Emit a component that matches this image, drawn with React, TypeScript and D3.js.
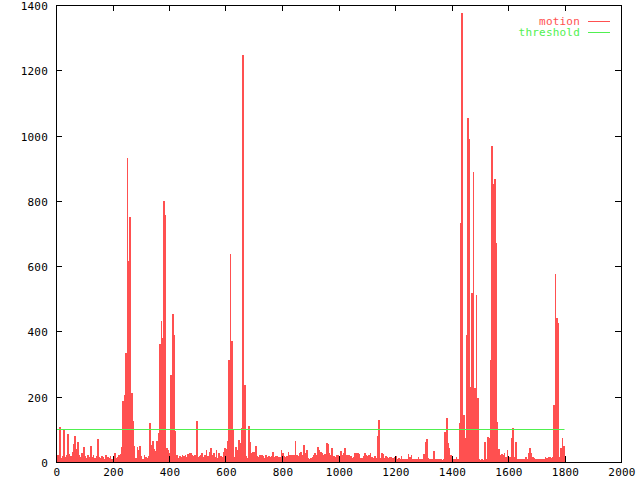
import React from "react";
import * as d3 from "d3";

const FRAME_STEP = 5;
const motion: number[] = [
  15, 20, 107, 12, 18, 97, 14, 22, 85, 25,
  18, 30, 55, 80, 40, 60, 22, 15, 28, 45,
  18, 12, 20, 16, 50, 14, 20, 12, 18, 70,
  15, 12, 18, 14, 10, 22, 15, 12, 18, 10,
  15, 27, 12, 14, 20, 25, 47, 186, 206, 334,
  931, 615, 752, 211, 125, 48, 12, 46, 38, 50,
  17, 10, 22, 15, 12, 18, 120, 53, 63, 40,
  33, 63, 90, 360, 433, 380, 800, 758, 43, 38,
  28, 267, 453, 390, 94, 22, 12, 18, 15, 20,
  17, 22, 15, 24, 29, 27, 20, 18, 22, 127,
  15, 17, 20, 27, 14, 22, 37, 18, 32, 42,
  20, 29, 15, 37, 12, 27, 18, 14, 32, 42,
  40, 63, 313, 638, 370, 99, 15, 46, 38, 68,
  58, 104, 1248, 237, 17, 12, 109, 62, 27, 32,
  30, 49, 17, 15, 22, 20, 17, 12, 20, 15,
  17, 14, 19, 32, 15, 17, 18, 14, 16, 37,
  27, 17, 15, 17, 32, 22, 20, 22, 22, 64,
  22, 18, 27, 32, 22, 52, 27, 37, 12, 10,
  12, 14, 20, 27, 20, 47, 37, 32, 27, 22,
  25, 59, 55, 27, 20, 42, 17, 15, 22, 20,
  18, 35, 22, 27, 42, 22, 20, 22, 17, 12,
  15, 27, 29, 29, 25, 12, 12, 19, 27, 22,
  17, 20, 27, 15, 12, 17, 12, 79, 129, 12,
  27, 25, 12, 19, 15, 12, 15, 14, 12, 15,
  19, 9, 12, 9, 19, 9, 10, 8, 10, 24,
  15, 22, 9, 9, 10, 10, 15, 9, 10, 9,
  25, 62, 69, 12, 9, 10, 9, 35, 9, 10,
  8, 9, 10, 6, 8, 93, 134, 57, 42, 21,
  8, 9, 8, 14, 8, 118, 731, 1374, 144, 72,
  389, 1053, 991, 231, 517, 889, 226, 512, 195, 8,
  6, 8, 7, 62, 8, 78, 72, 312, 969, 853,
  867, 672, 124, 40, 21, 25, 22, 29, 16, 37,
  16, 16, 72, 105, 16, 62, 8, 8, 9, 8,
  10, 8, 16, 10, 29, 42, 27, 16, 11, 10,
  8, 8, 9, 8, 8, 10, 14, 11, 16, 14,
  12, 16, 175, 576, 440, 427, 16, 42, 72, 49,
  10,
];
const thresholdValue = 100;
const thresholdRange: [number, number] = [0, 1800];
const xTicks = [0, 200, 400, 600, 800, 1000, 1200, 1400, 1600, 1800, 2000];
const yTicks = [0, 200, 400, 600, 800, 1000, 1200, 1400];
const legendLabels = ["motion", "threshold"];

const RED = "#ff5050";
const GREEN = "#50f050";
const FONT = "'DejaVu Sans Mono', monospace";

export default function App() {
  const L = 56, R = 621, T = 5, B = 462;
  const x = d3.scaleLinear().domain([0, 2000]).range([L, R]);
  const y = d3.scaleLinear().domain([0, 1400]).range([B, T]);
  const barW = x(FRAME_STEP) - x(0);
  const tick = 6;
  return (
    <svg width={640} height={480} style={{ position: "absolute", left: 0, top: 0, background: "#fff" }}>
      <rect x={0} y={0} width={640} height={480} fill="#fff" />
      <g shapeRendering="crispEdges">
        {motion.map((v, i) => {
          const x0 = x(i * FRAME_STEP);
          return <rect key={i} x={x0} y={y(v)} width={barW + 0.3} height={B - y(v)} fill={RED} />;
        })}
      </g>
      <line x1={x(thresholdRange[0])} x2={x(thresholdRange[1])} y1={Math.round(y(thresholdValue)) + 0.5} y2={Math.round(y(thresholdValue)) + 0.5} stroke={GREEN} strokeWidth={1} />
      <g stroke="#000" strokeWidth={1} fill="none" shapeRendering="crispEdges">
        <rect x={L + 0.5} y={T + 0.5} width={R - L} height={B - T} />
        {xTicks.map((t) => (
          <g key={"x" + t}>
            <line x1={Math.round(x(t)) + 0.5} x2={Math.round(x(t)) + 0.5} y1={B} y2={B - tick} />
            <line x1={Math.round(x(t)) + 0.5} x2={Math.round(x(t)) + 0.5} y1={T} y2={T + tick} />
          </g>
        ))}
        {yTicks.map((t) => (
          <g key={"y" + t}>
            <line x1={L} x2={L + tick} y1={Math.round(y(t)) + 0.5} y2={Math.round(y(t)) + 0.5} />
            <line x1={R} x2={R - tick} y1={Math.round(y(t)) + 0.5} y2={Math.round(y(t)) + 0.5} />
          </g>
        ))}
      </g>
      <g fontFamily={FONT} fontSize={11} letterSpacing={0.2} fill="#000">
        {xTicks.map((t) => (
          <text key={"xl" + t} x={x(t) + 1} y={472} textAnchor="middle" dominantBaseline="central">{t}</text>
        ))}
        {yTicks.map((t) => (
          <text key={"yl" + t} x={48} y={y(t) + 1.5} textAnchor="end" dominantBaseline="central">{t}</text>
        ))}
      </g>
      <g fontFamily={FONT} fontSize={11} letterSpacing={0.2}>
        <text x={580} y={21.5} textAnchor="end" dominantBaseline="central" fill={RED}>{legendLabels[0]}</text>
        <line x1={588} x2={610} y1={21.5} y2={21.5} stroke={RED} />
        <text x={580} y={32.5} textAnchor="end" dominantBaseline="central" fill={GREEN}>{legendLabels[1]}</text>
        <line x1={588} x2={610} y1={32.5} y2={32.5} stroke={GREEN} />
      </g>
    </svg>
  );
}
